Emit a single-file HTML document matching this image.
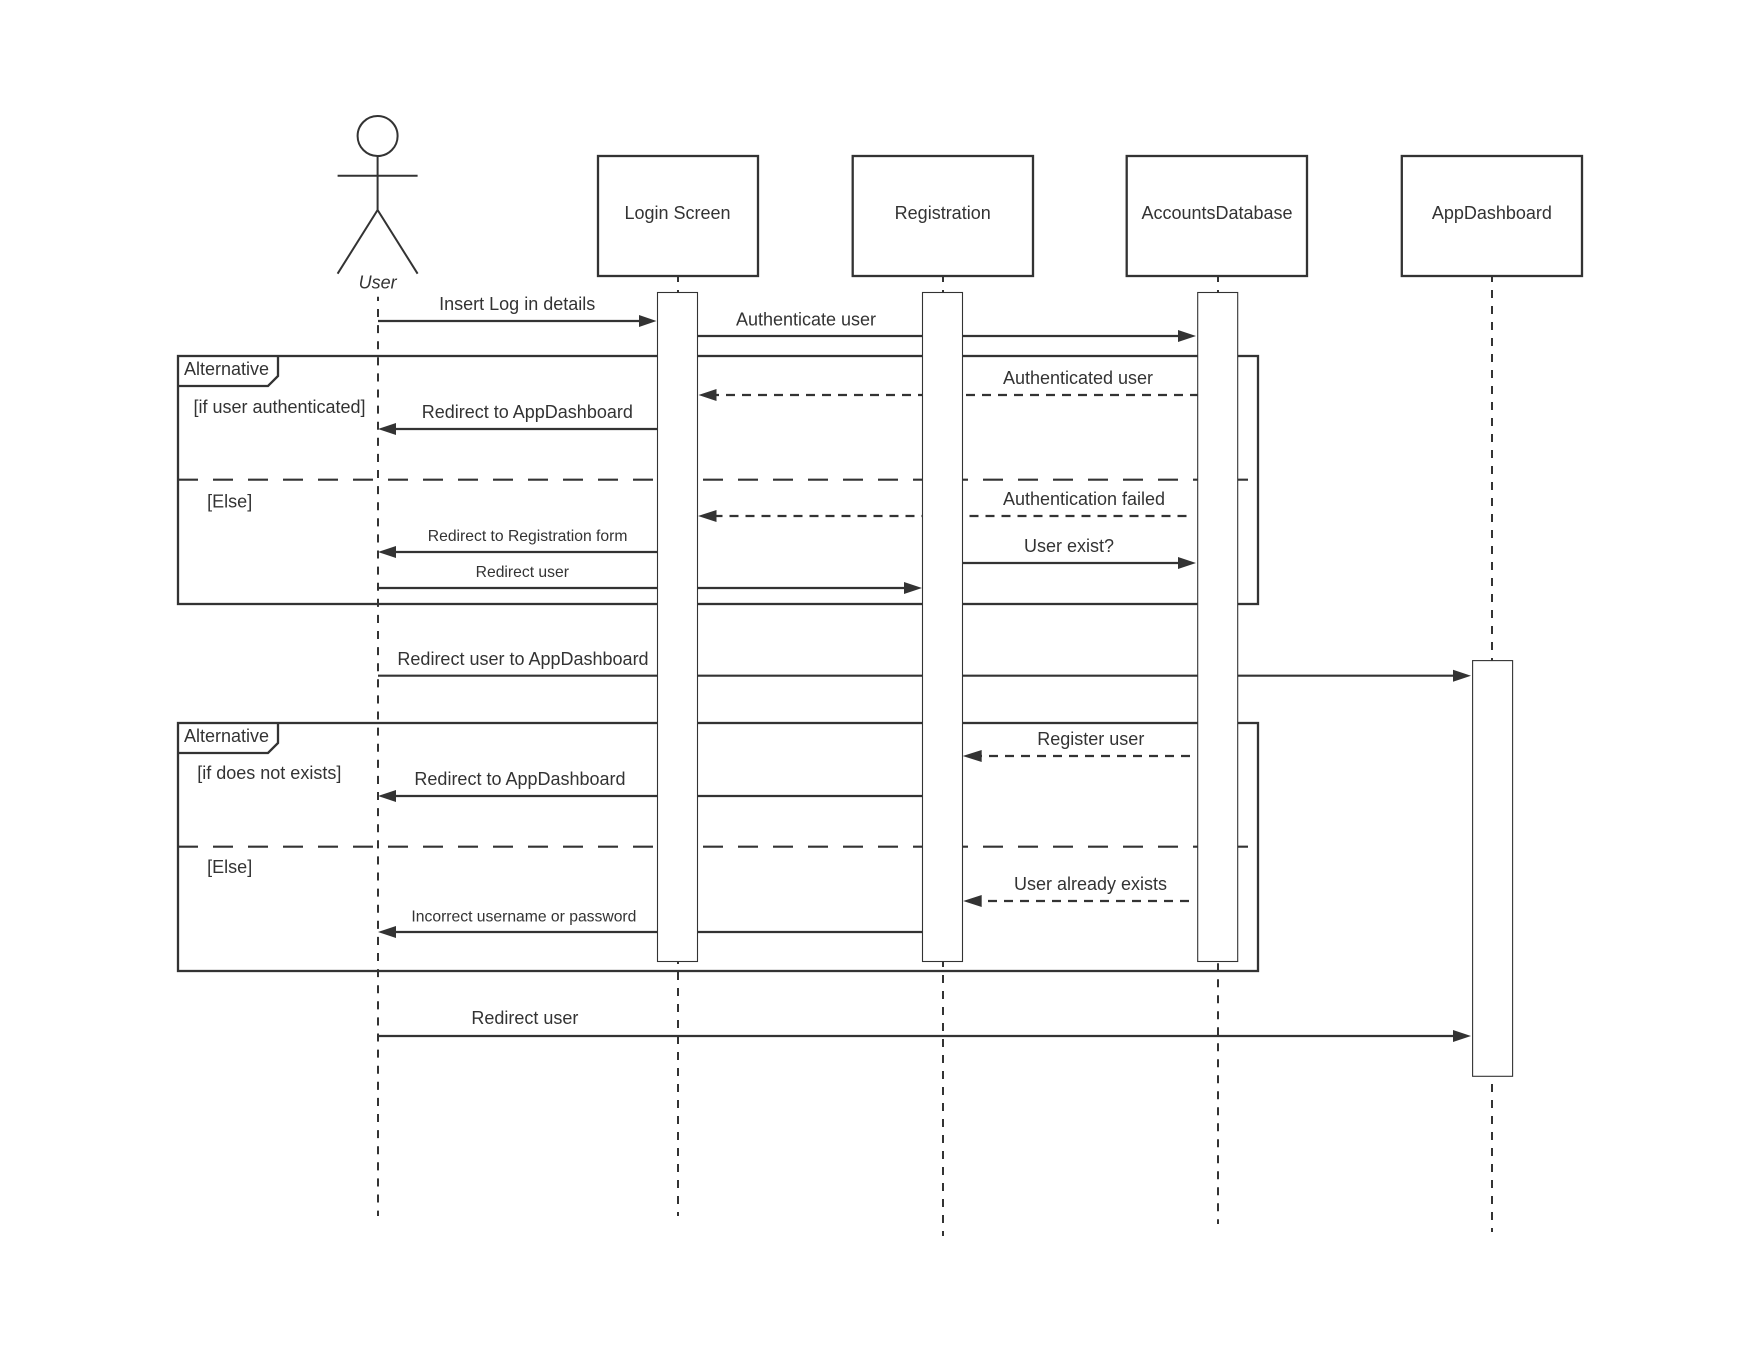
<!DOCTYPE html>
<html><head><meta charset="utf-8">
<style>
html,body{margin:0;padding:0;background:#fff;width:1760px;height:1360px;overflow:hidden}
svg{display:block}
text{font-family:"Liberation Sans",sans-serif;font-size:18px;fill:#333;text-anchor:middle}
.s{font-size:15.7px}
.box{fill:#fff;stroke:#333;stroke-width:2.3}
.frame{fill:none;stroke:#333;stroke-width:2.3}
.act{fill:#fff;stroke:#333;stroke-width:1.1}
.life{stroke:#333;stroke-width:2;stroke-dasharray:8 8;fill:none}
.msg{stroke:#333;stroke-width:2.2;fill:none}
.ret{stroke:#333;stroke-width:2.2;fill:none;stroke-dasharray:9 7}
.div{stroke:#333;stroke-width:2.2;fill:none;stroke-dasharray:20 15}
.head{fill:#333;stroke:none}
</style></head><body>
<svg width="1760" height="1360" viewBox="0 0 1760 1360" xmlns="http://www.w3.org/2000/svg">
<rect width="1760" height="1360" fill="#fff"/>

<!-- frames -->
<rect class="frame" x="178" y="356" width="1080" height="248"/>
<path class="frame" d="M178 386H268L278 376V356"/>
<line class="div" x1="178" y1="479.7" x2="1248" y2="479.7"/>
<rect class="frame" x="178" y="723" width="1080" height="248"/>
<path class="frame" d="M178 753H268L278 743V723"/>
<line class="div" x1="178" y1="846.7" x2="1248" y2="846.7"/>

<!-- actor -->
<g fill="none" stroke="#333" stroke-width="2">
<circle cx="377.6" cy="136" r="20"/>
<path d="M377.6 156V210M337.6 175.7H417.6M337.6 273.7L377.6 210L417.6 273.7"/>
</g>
<text x="377.6" y="288.5" style="font-style:italic">User</text>

<!-- lifelines -->
<line class="life" x1="378" y1="296.7" x2="378" y2="1216" style="stroke-dasharray:8.05 8.05;stroke-dashoffset:3.8"/>
<line class="life" x1="678" y1="276" x2="678" y2="293" stroke-dashoffset="2"/>
<line class="life" x1="678" y1="961" x2="678" y2="1216" stroke-dashoffset="5"/>
<line class="life" x1="943" y1="276" x2="943" y2="293" stroke-dashoffset="2"/>
<line class="life" x1="943" y1="961" x2="943" y2="1236" stroke-dashoffset="2"/>
<line class="life" x1="1218" y1="276" x2="1218" y2="293" stroke-dashoffset="2"/>
<line class="life" x1="1218" y1="961" x2="1218" y2="1224" stroke-dashoffset="13.7"/>
<line class="life" x1="1492" y1="276" x2="1492" y2="661" stroke-dashoffset="2"/>
<line class="life" x1="1492" y1="1084" x2="1492" y2="1232"/>

<!-- participants -->
<rect class="box" x="598" y="156" width="160" height="120"/>
<text x="677.5" y="219">Login Screen</text>
<rect class="box" x="852.7" y="156" width="180.3" height="120"/>
<text x="942.7" y="219">Registration</text>
<rect class="box" x="1126.7" y="156" width="180.3" height="120"/>
<text x="1217" y="219">AccountsDatabase</text>
<rect class="box" x="1401.8" y="156" width="180.2" height="120"/>
<text x="1491.9" y="219">AppDashboard</text>

<!-- messages -->
<line class="msg" x1="378" y1="321" x2="640" y2="321"/>
<path class="head" d="M656.5 321L639 315V327Z"/>

<line class="msg" x1="698" y1="336" x2="1180" y2="336"/>
<path class="head" d="M1196 336L1178 330V342Z"/>

<line class="ret" x1="1199" y1="395" x2="715" y2="395"/>
<path class="head" d="M698.5 395L716.5 389V401Z"/>

<line class="msg" x1="657" y1="429" x2="395" y2="429"/>
<path class="head" d="M378 429L396 423V435Z"/>

<line class="ret" x1="1186.5" y1="516" x2="715" y2="516"/>
<path class="head" d="M698 516L716.5 510V522Z"/>

<line class="msg" x1="657" y1="552" x2="395" y2="552"/>
<path class="head" d="M378 552L396 546V558Z"/>

<line class="msg" x1="963" y1="563" x2="1180" y2="563"/>
<path class="head" d="M1196 563L1178 557V569Z"/>

<line class="msg" x1="378" y1="588" x2="905" y2="588"/>
<path class="head" d="M922 588L904 582V594Z"/>

<line class="msg" x1="378" y1="675.7" x2="1455" y2="675.7"/>
<path class="head" d="M1471 675.7L1453 669.7V681.7Z"/>

<line class="ret" x1="1190" y1="756" x2="980" y2="756"/>
<path class="head" d="M962.7 756L981.7 750V762Z"/>

<line class="msg" x1="922" y1="796" x2="395" y2="796"/>
<path class="head" d="M378 796L396 790V802Z"/>

<line class="ret" x1="1189" y1="901" x2="980" y2="901"/>
<path class="head" d="M963.2 901L981.7 895V907Z"/>

<line class="msg" x1="922" y1="932" x2="395" y2="932"/>
<path class="head" d="M378 932L396 926V938Z"/>

<line class="msg" x1="378" y1="1036" x2="1455" y2="1036"/>
<path class="head" d="M1471 1036L1453 1030V1042Z"/>

<!-- activations -->
<rect class="act" x="657.5" y="292.5" width="40" height="669"/>
<rect class="act" x="922.5" y="292.5" width="40" height="669"/>
<rect class="act" x="1197.7" y="292.5" width="40" height="669"/>
<rect class="act" x="1472.6" y="660.6" width="40" height="415.7"/>

<!-- frame labels -->
<text x="226.5" y="375">Alternative</text>
<text x="279.5" y="413">[if user authenticated]</text>
<text x="229.7" y="507.3">[Else]</text>
<text x="226.5" y="742">Alternative</text>
<text x="269.3" y="779">[if does not exists]</text>
<text x="229.7" y="873">[Else]</text>

<!-- message labels -->
<text x="517.2" y="310">Insert Log in details</text>
<text x="806" y="325.5">Authenticate user</text>
<text x="1078" y="384">Authenticated user</text>
<text x="527.3" y="418">Redirect to AppDashboard</text>
<text x="1084" y="505">Authentication failed</text>
<text x="527.6" y="541" class="s">Redirect to Registration form</text>
<text x="1069" y="552">User exist?</text>
<text x="522.3" y="577" class="s">Redirect user</text>
<text x="523" y="665">Redirect user to AppDashboard</text>
<text x="1090.8" y="745">Register user</text>
<text x="520" y="785">Redirect to AppDashboard</text>
<text x="1090.5" y="890">User already exists</text>
<text x="523.9" y="921.7" class="s">Incorrect username or password</text>
<text x="524.9" y="1024">Redirect user</text>
</svg>
</body></html>
